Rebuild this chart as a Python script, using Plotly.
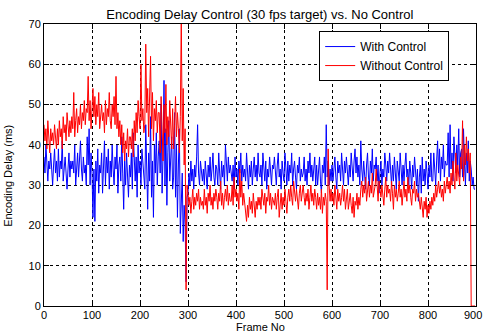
import plotly.graph_objects as go

step = 2
with_control = [
    37, 33, 40, 35, 31, 36, 34, 38, 32, 30, 35, 39, 33, 36, 31,
    39, 32, 36, 34, 41, 31, 35, 37, 33, 29, 34, 38, 32, 36, 34,
    36, 33, 40, 30, 35, 38, 32, 36, 41, 34, 31, 37, 33, 35, 30,
    42, 35, 44, 30, 38, 33, 22, 34, 21, 36, 31, 39, 28, 35, 33,
    38, 28, 35, 41, 30, 37, 33, 39, 29, 36, 32, 40, 34, 30, 37,
    34, 40, 28, 35, 37, 31, 42, 33, 24, 36, 30, 38, 33, 27, 35,
    32, 38, 29, 43, 34, 31, 37, 27, 40, 33, 36, 30, 39, 35, 31,
    29, 45, 34, 24, 38, 31, 47, 27, 36, 22, 40, 33, 43, 30, 37,
    41, 33, 50, 28, 37, 56, 30, 44, 25, 38, 46, 31, 35, 42, 29,
    32, 48, 27, 40, 22, 35, 44, 18, 28, 33, 16, 25, 20, 6, 27,
    28, 33, 30, 36, 31, 34, 29, 35, 32, 37, 45, 33, 30, 36, 32,
    31, 34, 30, 36, 33, 29, 35, 32, 37, 31, 34, 38, 32, 30, 35,
    34, 30, 38, 33, 29, 36, 32, 35, 30, 40, 34, 31, 37, 33, 35,
    33, 31, 35, 29, 37, 32, 34, 30, 36, 33, 38, 31, 35, 32, 34,
    31, 38, 33, 29, 35, 32, 36, 30, 34, 37, 32, 35, 31, 38, 33,
    32, 35, 30, 38, 33, 31, 36, 29, 34, 32, 37, 33, 30, 35, 34,
    37, 33, 30, 35, 38, 32, 34, 29, 36, 33, 31, 38, 34, 30, 36,
    31, 35, 33, 38, 30, 34, 36, 32, 29, 35, 33, 37, 31, 34, 32,
    33, 37, 31, 34, 30, 36, 33, 38, 32, 35, 31, 34, 37, 30, 35,
    30, 34, 37, 31, 28, 35, 33, 37, 30, 45, 32, 36, 30, 34, 31,
    35, 31, 34, 37, 32, 29, 36, 33, 35, 31, 38, 34, 30, 36, 33,
    37, 33, 30, 35, 32, 38, 34, 31, 36, 39, 33, 37, 32, 35, 30,
    41, 34, 31, 36, 33, 29, 35, 38, 32, 30, 36, 33, 39, 31, 35,
    34, 37, 31, 35, 28, 33, 36, 30, 34, 32, 38, 35, 31, 36, 33,
    38, 33, 30, 35, 31, 37, 34, 29, 36, 33, 31, 38, 34, 30, 35,
    31, 35, 38, 32, 34, 30, 36, 33, 29, 35, 32, 37, 33, 30, 34,
    26, 32, 35, 28, 37, 31, 34, 30, 36, 33, 29, 35, 32, 38, 31,
    31, 38, 34, 30, 36, 41, 33, 39, 31, 37, 34, 40, 32, 36, 35,
    35, 43, 32, 45, 34, 38, 31, 42, 36, 33, 40, 35, 44, 32, 38,
    39, 32, 44, 35, 30, 38, 33, 41, 31, 36, 34, 30, 32, 29, 29,
]
without_control = [
    45, 41, 44, 39, 46, 42, 38, 44, 41, 43, 40, 45, 42, 39, 44,
    40, 46, 42, 44, 39, 47, 43, 45, 41, 48, 44, 42, 46, 43, 47,
    44, 53, 42, 46, 49, 43, 47, 45, 50, 44, 48, 46, 51, 45, 49,
    48, 57, 46, 51, 44, 49, 54, 47, 52, 45, 50, 47, 53, 44, 48,
    50, 46, 48, 43, 51, 45, 49, 47, 53, 46, 44, 50, 47, 52, 45,
    57, 44, 48, 42, 46, 40, 45, 38, 43, 36, 41, 39, 44, 37, 42,
    42, 39, 44, 37, 46, 41, 48, 43, 51, 47, 44, 60, 46, 49, 43,
    45, 65, 48, 54, 42, 50, 62, 44, 53, 41, 49, 46, 51, 43, 48,
    48, 38, 52, 44, 36, 50, 43, 55, 40, 47, 42, 51, 45, 39, 49,
    39, 45, 52, 42, 48, 44, 38, 47, 72, 41, 54, 35, 44, 4, 30,
    28, 25, 27, 23, 26, 29, 24, 27, 25, 28, 26, 29, 24, 27, 25,
    26, 24, 29, 25, 27, 23, 28, 26, 30, 25, 27, 24, 28, 26, 29,
    27, 24, 28, 26, 31, 25, 28, 24, 27, 29, 26, 30, 25, 28, 26,
    26, 30, 25, 32, 27, 29, 26, 28, 24, 34, 27, 31, 25, 28, 26,
    23, 21, 25, 22, 27, 24, 26, 23, 28, 25, 22, 26, 24, 27, 25,
    27, 24, 29, 26, 25, 28, 23, 27, 26, 30, 25, 28, 24, 27, 26,
    25, 28, 24, 27, 29, 22, 26, 28, 24, 27, 25, 29, 26, 23, 27,
    29, 26, 30, 27, 25, 31, 28, 26, 29, 27, 24, 28, 30, 26, 28,
    30, 27, 25, 28, 26, 29, 24, 27, 30, 26, 28, 25, 29, 27, 24,
    28, 25, 27, 24, 29, 23, 27, 25, 28, 26, 4, 39, 30, 26, 29,
    26, 28, 25, 30, 27, 24, 29, 26, 28, 25, 27, 30, 26, 29, 24,
    27, 29, 24, 26, 28, 25, 23, 27, 22, 26, 25, 28, 24, 27, 25,
    29, 31, 27, 30, 28, 32, 26, 29, 31, 27, 30, 28, 33, 27, 29,
    30, 34, 28, 26, 31, 29, 27, 30, 28, 25, 29, 32, 27, 30, 28,
    29, 26, 31, 28, 24, 30, 27, 29, 26, 28, 31, 27, 29, 25, 28,
    31, 27, 29, 26, 32, 28, 30, 27, 25, 29, 28, 31, 26, 29, 27,
    28, 26, 24, 27, 25, 22, 26, 24, 27, 22, 25, 23, 26, 24, 27,
    25, 28, 26, 30, 27, 29, 31, 28, 30, 27, 29, 26, 31, 28, 30,
    32, 29, 31, 28, 33, 30, 36, 32, 29, 38, 31, 35, 33, 30, 37,
    34, 46, 31, 40, 35, 42, 36, 39, 33, 38, 0, 0, 0, 0, 0,
]
frames = list(range(0, len(with_control) * step, step))

x_ticks = [0, 100, 200, 300, 400, 500, 600, 700, 800, 900]
y_ticks = [0, 10, 20, 30, 40, 50, 60, 70]

FONT = "Liberation Sans, Arial, sans-serif"
TXT = dict(family=FONT, size=11, color="black")

fig = go.Figure()
fig.add_trace(go.Scatter(x=frames, y=with_control, mode="lines", name="With Control",
                         line=dict(color="#0000ff", width=1)))
fig.add_trace(go.Scatter(x=frames, y=without_control, mode="lines", name="Without Control",
                         line=dict(color="#ff0000", width=1)))

axis_common = dict(showline=True, linecolor="black", linewidth=1, mirror="ticks",
                   ticks="inside", ticklen=5, tickcolor="black",
                   showgrid=True, gridcolor="black", griddash="dot", gridwidth=1,
                   zeroline=False, tickfont=TXT)

fig.update_layout(
    width=483, height=334,
    margin=dict(l=44, r=7, t=24, b=28),
    paper_bgcolor="white", plot_bgcolor="white",
    title=dict(text="Encoding Delay Control (30 fps target) vs. No Control",
               x=0.538, xanchor="center", y=0.958, yanchor="middle",
               font=dict(family=FONT, size=13, color="black")),
    xaxis=dict(range=[0, 900], tickvals=x_ticks[:-1], ticklabelstandoff=-1, **axis_common),
    yaxis=dict(range=[0, 70], tickvals=y_ticks, **axis_common),
    legend=dict(x=0.637, y=0.975, xanchor="left", yanchor="top",
                bgcolor="white", bordercolor="black", borderwidth=1,
                font=dict(family=FONT, size=12, color="black"),
                tracegroupgap=0, itemwidth=30),
    showlegend=True,
    annotations=[
        dict(text=str(x_ticks[-1]), x=x_ticks[-1], xref="x", y=0, yref="paper",
             xanchor="center", yanchor="top", yshift=-1, xshift=-3,
             showarrow=False, font=TXT),
        dict(text="Frame No", x=0.5, xref="paper", y=0, yref="paper",
             xanchor="center", yanchor="bottom", yshift=-28, borderpad=0,
             showarrow=False, font=TXT),
        dict(text="Encoding Delay (ms)", x=-0.082, xref="paper", y=0.46, yref="paper",
             xanchor="center", yanchor="middle", textangle=-90, showarrow=False, font=TXT),
    ],
)

fig.write_html("out.html")
